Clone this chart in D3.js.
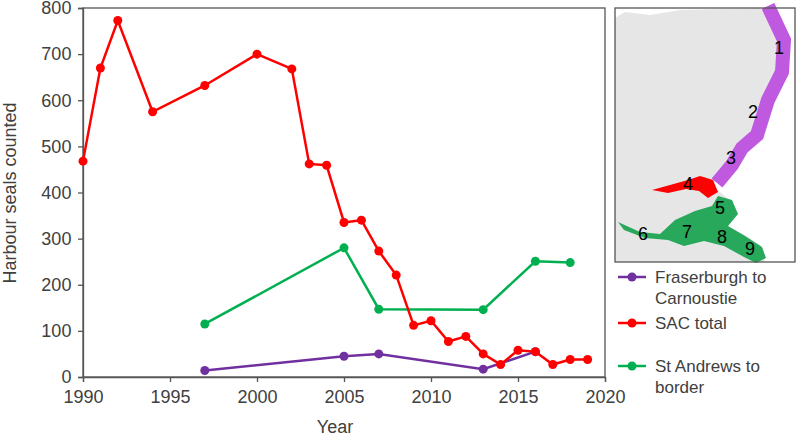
<!DOCTYPE html><html><head><meta charset="utf-8">
<script src="https://cdn.jsdelivr.net/npm/d3@7"></script>
<style>body{margin:0;background:#fff}text{font-family:Arial,"Liberation Sans",sans-serif}</style></head><body>
<svg id="c" width="800" height="439"></svg>
<script>
const sacYears=[1990,1991,1992,1994,1997,2000,2002,2003,2004,2005,2006,2007,2008,2009,2010,2011,2012,2013,2014,2015,2016,2017,2018,2019];
const sacValues=[468,670,773,575,632,700,668,462,459,335,340,273,221,112,122,77,88,50,27,58,55,27,38,38];
const stAndYears=[1997,2005,2007,2013,2016,2018];
const stAndValues=[115,280,147,146,251,248];
const fraserYears=[1997,2005,2007,2013,2016];
const fraserValues=[14,45,50,17,55];
const xTicks=[1990,1995,2000,2005,2010,2015,2020];
const yTicks=[0,100,200,300,400,500,600,700,800];
const legendLabels=[["Fraserburgh to","Carnoustie"],["SAC total"],["St Andrews to","border"]];
const colors=["#7030a0","#ff0000","#00b050"];

const svg=d3.select("#c");
const x=d3.scaleLinear().domain([1990,2020]).range([83,605]);
const y=d3.scaleLinear().domain([0,800]).range([377,8]);
svg.append("rect").attr("x",83).attr("y",8).attr("width",522).attr("height",369).attr("fill","none").attr("stroke","#555").attr("stroke-width",1.3);
const ax=svg.append("g").attr("transform","translate(0,377)").call(d3.axisBottom(x).tickValues(xTicks).tickFormat(d3.format("d")).tickSize(5));
const ay=svg.append("g").attr("transform","translate(83,0)").call(d3.axisLeft(y).tickValues(yTicks).tickSize(5));
[ax,ay].forEach(a=>{a.selectAll("path,line").attr("stroke","#555").attr("stroke-width",1.3);a.selectAll("text").attr("font-size",18).attr("fill","#404040");});
ax.selectAll("text").attr("dy","1.0em");
ay.selectAll("text").attr("dx","-0.2em");
svg.append("text").attr("x",335).attr("y",433).attr("text-anchor","middle").attr("font-size",18).attr("fill","#404040").text("Year");
svg.append("text").attr("transform","translate(16,193) rotate(-90)").attr("text-anchor","middle").attr("font-size",18).attr("fill","#404040").text("Harbour seals counted");

const series=[[fraserYears,fraserValues],[sacYears,sacValues],[stAndYears,stAndValues]];
const line=d3.line().x(d=>x(d[0])).y(d=>y(d[1]));
[2,0,1].forEach(i=>{
 const pts=series[i][0].map((yr,k)=>[yr,series[i][1][k]]);
 svg.append("path").attr("d",line(pts)).attr("fill","none").attr("stroke",colors[i]).attr("stroke-width",2.5);
 svg.selectAll(null).data(pts).enter().append("circle").attr("cx",d=>x(d[0])).attr("cy",d=>y(d[1])).attr("r",4.5).attr("fill",colors[i]);
});

const ly=[277,323,366];
legendLabels.forEach((lab,i)=>{
 svg.append("line").attr("x1",618).attr("x2",646).attr("y1",ly[i]).attr("y2",ly[i]).attr("stroke",colors[i]).attr("stroke-width",2.5);
 svg.append("circle").attr("cx",632).attr("cy",ly[i]).attr("r",4.5).attr("fill",colors[i]);
 lab.forEach((t,j)=>svg.append("text").attr("x",655).attr("y",ly[i]+6+j*21).attr("font-size",17).attr("fill","#404040").text(t));
});

const m=svg.append("g");
m.append("rect").attr("x",615).attr("y",8).attr("width",180).attr("height",254).attr("fill","#fff");
m.append("path").attr("d","M615,18L625,12L650,15L680,10L760,8L770,20L783,45L778,75L765,100L758,130L745,140L735,160L725,175L712,185L720,192L730,200L732,215L725,225L745,235L760,245L765,262L615,262Z").attr("fill","#e6e6e6");
m.append("path").attr("d","M768,6L784,40L782,72L768,100L757,135L742,148L732,165L717,183").attr("fill","none").attr("stroke","#bf5ae0").attr("stroke-width",14);
m.append("path").attr("d","M652,190L670,185L688,180L700,176L713,180L718,192L708,198L699,191L686,189L668,193Z").attr("fill","#ff0000");
m.append("path").attr("d","M618,222L640,232L660,234L675,220L695,211L712,206L718,196L732,200L738,214L728,226L745,236L762,247L766,258L756,263L744,257L724,246L704,241L684,246L668,240L645,238L624,230Z").attr("fill","#27a85a");
m.append("rect").attr("x",615).attr("y",8).attr("width",180).attr("height",254).attr("fill","none").attr("stroke","#555").attr("stroke-width",1.3);
[["1",779,54],["2",753,118],["3",731,164],["4",688,190],["5",720,214],["6",643,240],["7",687,238],["8",722,243],["9",750,255]].forEach(d=>
 m.append("text").attr("x",d[1]).attr("y",d[2]).attr("text-anchor","middle").attr("font-size",18).text(d[0]));
</script></body></html>
